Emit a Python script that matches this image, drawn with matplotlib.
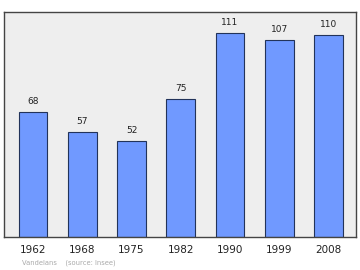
import matplotlib
matplotlib.use("Agg")
import matplotlib.pyplot as plt

years = ["1962", "1968", "1975", "1982", "1990", "1999", "2008"]
population = [68, 57, 52, 75, 111, 107, 110]
caption = "Vandelans    (source: Insee)"

fig = plt.figure(figsize=(3.6, 2.7), dpi=100)
ax = fig.add_axes([4/360, 1 - 237/270, 352/360, 225/270])
ax.set_facecolor("#eeeeee")
x = list(range(len(years)))
bars = ax.bar(x, population, width=0.58, color="#7099ff", edgecolor="#22335a", linewidth=0.8, zorder=2)
for xi, v in zip(x, population):
    ax.text(xi, v + 10.5 / 1.84, str(v), ha="center", va="center", fontsize=6.5, color="#222222")
ax.set_xlim(-0.589, 6.559)
ax.set_ylim(0, 122.3)
ax.set_yticks([])
ax.set_xticks([])
for s in ax.spines.values():
    s.set_color("#444444")
    s.set_linewidth(1.0)
for xi, y in zip(x, years):
    ax.text(xi, -13.5 / 1.84, y, ha="center", va="center", fontsize=7.5, color="#222222")
fig.text(22/360, 1 - 263/270, caption, ha="left", va="center", fontsize=4.9, color="#aaaaaa")
fig.savefig("out.png", dpi=100, facecolor="white")
